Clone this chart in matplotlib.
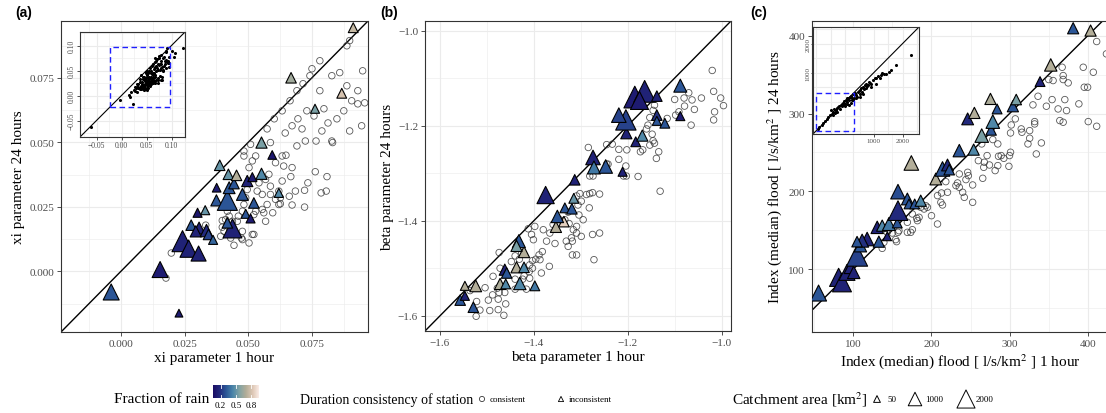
import matplotlib
matplotlib.use('Agg')
import matplotlib.pyplot as plt
import matplotlib.colors as mcolors
import matplotlib.ticker as mticker
from matplotlib.patches import Rectangle
import numpy as np

plt.rcParams['font.family'] = ['Liberation Serif', 'DejaVu Serif']
plt.rcParams['mathtext.fontset'] = 'stix'

GRID = '#EBEBEB'
BORDER = '#333333'
TICKC = '#4D4D4D'
LAPAZ = mcolors.LinearSegmentedColormap.from_list(
    'lapaz', ['#1A0C64', '#22297C', '#2B5797', '#4A85A9', '#80A3A4',
              '#B1AD98', '#DCC6B3', '#FBECE7'])
FRAC_MIN, FRAC_MAX = 0.05, 0.95

# ---------------- panel (a): xi parameter ----------------
a_circ_x = [0.0198, 0.0177, 0.0333, 0.0398, 0.0405, 0.0418, 0.0444, 0.0473, 0.0503, 0.0516,
            0.0477, 0.0457, 0.0483, 0.0490, 0.0522, 0.0529, 0.0568, 0.0555, 0.0574, 0.0587,
            0.0596, 0.0607, 0.0626, 0.0626, 0.0633, 0.0672, 0.0685, 0.0721, 0.0721, 0.0734,
            0.0763, 0.0786, 0.0806, 0.0809, 0.0667, 0.0672, 0.0639, 0.0607, 0.0633, 0.0648,
            0.0691, 0.0724, 0.0831, 0.0529, 0.0516, 0.0503, 0.0483, 0.0483, 0.0509, 0.0587,
            0.0581, 0.0587, 0.0568, 0.0535, 0.0555, 0.0542, 0.0496, 0.0477, 0.0461, 0.0438,
            0.0425, 0.0411, 0.0398, 0.0392, 0.0431, 0.0477, 0.0522, 0.0561, 0.0620, 0.0661,
            0.0620, 0.0691, 0.0715, 0.0742, 0.0781, 0.0797, 0.0828, 0.0859, 0.0887, 0.0906,
            0.0930, 0.0949, 0.0875, 0.0848, 0.0813, 0.0758, 0.0730, 0.0695, 0.0672, 0.0645,
            0.0711, 0.0602, 0.0574, 0.0887, 0.0898, 0.0930, 0.0957, 0.0789, 0.0781, 0.0750,
            0.0664, 0.0633, 0.0766, 0.0828, 0.0898, 0.0945]
a_circ_y = [0.0071, -0.0026, 0.0179, 0.0171, 0.0155, 0.0233, 0.0101, 0.0129, 0.0110, 0.0143,
            0.0155, 0.0194, 0.0259, 0.0285, 0.0220, 0.0233, 0.0194, 0.0240, 0.0259, 0.0298,
            0.0227, 0.0279, 0.0262, 0.0285, 0.0350, 0.0257, 0.0311, 0.0249, 0.0314, 0.0343,
            0.0386, 0.0304, 0.0311, 0.0367, 0.0367, 0.0402, 0.0408, 0.0421, 0.0447, 0.0450,
            0.0486, 0.0505, 0.0499, 0.0447, 0.0428, 0.0402, 0.0447, 0.0466, 0.0492, 0.0499,
            0.0376, 0.0330, 0.0356, 0.0311, 0.0298, 0.0343, 0.0317, 0.0233, 0.0214, 0.0194,
            0.0214, 0.0201, 0.0197, 0.0136, 0.0129, 0.0123, 0.0143, 0.0227, 0.0259, 0.0291,
            0.0311, 0.0700, 0.0727, 0.0758, 0.0700, 0.0630, 0.0758, 0.0770, 0.0719, 0.0661,
            0.0700, 0.0777, 0.0622, 0.0591, 0.0575, 0.0602, 0.0622, 0.0591, 0.0564, 0.0536,
            0.0552, 0.0591, 0.0552, 0.0874, 0.0894, 0.0649, 0.0653, 0.0544, 0.0816, 0.0785,
            0.0661, 0.0622, 0.0505, 0.0505, 0.0544, 0.0564]
a_tri_x = [-0.0038, 0.0154, 0.0228, 0.0242, 0.0266, 0.0305, 0.0276, 0.0301, 0.0331, 0.0307,
           0.0294, 0.0336, 0.0344, 0.0362, 0.0375, 0.0376, 0.0388, 0.0418, 0.0422, 0.0425,
           0.0438, 0.0444, 0.0454, 0.0477, 0.0496, 0.0516, 0.0522, 0.0490, 0.0509, 0.0552,
           0.0594, 0.0552, 0.0620, 0.0418, 0.0668, 0.0912, 0.0867, 0.0762]
a_tri_y = [-0.0080, 0.0007, -0.0162, 0.0117, 0.0088, 0.0069, 0.0179, 0.0227, 0.0237, 0.0168,
           0.0155, 0.0158, 0.0143, 0.0122, 0.0275, 0.0324, 0.0411, 0.0275, 0.0376, 0.0324,
           0.0166, 0.0340, 0.0372, 0.0298, 0.0350, 0.0365, 0.0265, 0.0223, 0.0205, 0.0378,
           0.0451, 0.0499, 0.0304, 0.0188, 0.0750, 0.0944, 0.0690, 0.0630]
a_tri_frac = [0.30, 0.12, 0.12, 0.15, 0.15, 0.15, 0.30, 0.10, 0.50, 0.15,
              0.15, 0.18, 0.25, 0.35, 0.30, 0.12, 0.50, 0.30, 0.50, 0.30,
              0.15, 0.30, 0.70, 0.30, 0.15, 0.12, 0.30, 0.30, 0.12, 0.45,
              0.10, 0.55, 0.45, 0.30, 0.65, 0.75, 0.80, 0.55]
a_tri_area = [1500, 1500, 150, 2800, 1800, 1300, 500, 300, 300, 700,
              600, 800, 500, 300, 600, 250, 500, 2500, 500, 700,
              2200, 500, 500, 700, 600, 300, 500, 300, 300, 600,
              250, 600, 300, 500, 500, 400, 400, 300]
# stations outside the main window, only visible in the inset
a_extra_x = [-0.062, 0.122, 0.107, 0.100, 0.104]
a_extra_y = [-0.063, 0.096, 0.086, 0.090, 0.078]

# ---------------- panel (b): beta parameter ----------------
b_circ_x = [-1.020, -1.017, -1.002, -0.996, -1.015, -1.017, -1.043, -1.063, -1.070, -1.080,
            -1.079, -1.058, -1.091, -1.098, -1.100, -1.065, -1.116, -1.143, -1.146, -1.153,
            -1.157, -1.160, -1.148, -1.146, -1.143, -1.153, -1.168, -1.173, -1.134, -1.139,
            -1.202, -1.204, -1.209, -1.203, -1.178, -1.131, -1.233, -1.245, -1.284, -1.219,
            -1.242, -1.281, -1.274, -1.275, -1.281, -1.260, -1.288, -1.302, -1.309, -1.299,
            -1.306, -1.282, -1.304, -1.295, -1.309, -1.316, -1.327, -1.334, -1.325, -1.260,
            -1.275, -1.299, -1.309, -1.320, -1.331, -1.327, -1.318, -1.318, -1.309, -1.272,
            -1.345, -1.359, -1.366, -1.355, -1.373, -1.398, -1.405, -1.401, -1.412, -1.380,
            -1.382, -1.389, -1.396, -1.403, -1.409, -1.387, -1.367, -1.384, -1.403, -1.410,
            -1.409, -1.431, -1.426, -1.440, -1.448, -1.474, -1.472, -1.487, -1.478, -1.474,
            -1.476, -1.488, -1.497, -1.494, -1.462, -1.460, -1.464, -1.476, -1.504, -1.523,
            -1.515, -1.522, -1.536, -1.440, -1.416, -1.424, -1.421, -1.440, -1.245, -1.219]
b_circ_y = [-1.084, -1.128, -1.142, -1.158, -1.171, -1.188, -1.142, -1.146, -1.131, -1.142,
            -1.159, -1.166, -1.171, -1.178, -1.145, -1.199, -1.185, -1.157, -1.168, -1.183,
            -1.199, -1.207, -1.218, -1.232, -1.237, -1.241, -1.251, -1.255, -1.255, -1.269,
            -1.251, -1.285, -1.306, -1.306, -1.307, -1.338, -1.239, -1.240, -1.246, -1.271,
            -1.281, -1.306, -1.306, -1.341, -1.343, -1.344, -1.345, -1.343, -1.348, -1.359,
            -1.367, -1.373, -1.388, -1.398, -1.412, -1.419, -1.382, -1.398, -1.406, -1.426,
            -1.429, -1.433, -1.426, -1.436, -1.443, -1.454, -1.443, -1.472, -1.472, -1.482,
            -1.398, -1.408, -1.426, -1.448, -1.443, -1.412, -1.429, -1.440, -1.417, -1.419,
            -1.465, -1.472, -1.481, -1.484, -1.493, -1.482, -1.496, -1.510, -1.500, -1.507,
            -1.521, -1.481, -1.468, -1.474, -1.486, -1.467, -1.500, -1.517, -1.542, -1.551,
            -1.565, -1.556, -1.567, -1.589, -1.551, -1.575, -1.599, -1.587, -1.541, -1.601,
            -1.588, -1.570, -1.547, -1.544, -1.544, -1.523, -1.516, -1.523, -1.281, -1.250]
b_tri_x = [-1.557, -1.547, -1.529, -1.547, -1.524, -1.472, -1.460, -1.462, -1.458, -1.437,
           -1.421, -1.430, -1.398, -1.421, -1.432, -1.437, -1.353, -1.336, -1.350, -1.334,
           -1.319, -1.315, -1.375, -1.313, -1.274, -1.272, -1.247, -1.211, -1.203, -1.183,
           -1.169, -1.204, -1.219, -1.185, -1.164, -1.175, -1.138, -1.138, -1.138, -1.121,
           -1.088, -1.088]
b_tri_y = [-1.567, -1.558, -1.582, -1.537, -1.537, -1.533, -1.533, -1.503, -1.510, -1.498,
           -1.498, -1.532, -1.537, -1.466, -1.443, -1.453, -1.413, -1.402, -1.391, -1.373,
           -1.375, -1.353, -1.346, -1.314, -1.267, -1.288, -1.286, -1.297, -1.216, -1.234,
           -1.221, -1.188, -1.178, -1.140, -1.128, -1.147, -1.138, -1.178, -1.190, -1.195,
           -1.116, -1.180]
b_tri_frac = [0.30, 0.15, 0.30, 0.70, 0.70, 0.68, 0.45, 0.15, 0.30, 0.70,
              0.45, 0.45, 0.40, 0.70, 0.30, 0.55, 0.70, 0.85, 0.30, 0.30,
              0.30, 0.50, 0.15, 0.15, 0.15, 0.40, 0.30, 0.15, 0.15, 0.15,
              0.45, 0.25, 0.25, 0.12, 0.15, 0.12, 0.15, 0.20, 0.30, 0.30,
              0.30, 0.12]
b_tri_area = [500, 300, 500, 300, 700, 600, 400, 600, 500, 600,
              500, 800, 400, 600, 900, 600, 600, 500, 800, 400,
              500, 400, 1800, 500, 1200, 900, 1000, 300, 600, 400,
              600, 2600, 1200, 3000, 3000, 2000, 500, 500, 300, 400,
              900, 300]

# ---------------- panel (c): index flood ----------------
c_circ_x = [411.5, 424.0, 407.2, 394.3, 395.6, 399.9, 411.5, 400.7, 388.7, 375.0,
            368.6, 368.6, 355.7, 350.1, 367.3, 370.7, 372.9, 362.1, 364.3, 368.6,
            354.4, 347.1, 336.4, 329.9, 332.1, 332.1, 325.7, 325.7, 323.5, 340.7,
            334.2, 314.9, 315.8, 302.1, 301.2, 307.3, 299.9, 301.2, 299.1, 289.2,
            292.6, 285.8, 284.9, 284.9, 278.5, 264.3, 271.2, 274.2, 266.9, 265.6,
            281.5, 260.0, 267.7, 246.3, 247.2, 252.7, 252.7, 244.1, 235.6, 233.4,
            231.3, 235.6, 242.0, 239.9, 220.5, 218.3, 212.8, 207.7, 212.0, 214.1,
            200.0, 207.7, 192.7, 186.2, 175.5, 181.1, 184.1, 182.0, 169.1, 175.5,
            173.4, 169.1, 158.3, 157.1, 154.1, 155.3, 139.0, 136.9, 143.3, 149.8,
            194.8, 190.5]
c_circ_y = [392.6, 376.7, 353.1, 359.5, 333.8, 333.8, 283.6, 289.6, 312.4, 339.4,
            348.8, 343.7, 342.4, 343.7, 359.5, 317.9, 303.8, 305.9, 290.9, 288.8,
            317.9, 309.4, 322.2, 311.1, 289.6, 286.6, 278.0, 268.2, 260.9, 262.2,
            248.0, 280.2, 275.9, 285.3, 275.0, 293.1, 245.9, 250.2, 232.1, 245.9,
            242.4, 245.0, 233.0, 260.9, 266.5, 260.9, 245.9, 233.8, 230.8, 216.7,
            226.6, 239.4, 237.3, 224.4, 220.1, 208.1, 185.8, 215.0, 222.3, 210.7,
            207.3, 205.1, 192.2, 198.7, 198.7, 212.4, 197.8, 194.4, 185.8, 182.4,
            168.6, 157.9, 181.5, 179.4, 170.8, 165.2, 166.5, 162.2, 160.1, 150.6,
            147.2, 147.2, 149.3, 147.2, 137.8, 135.2, 134.3, 126.6, 147.2, 146.3,
            179.4, 177.2]
c_tri_x = [55.4, 81.1, 85.4, 91.8, 96.1, 100.4, 104.7, 109.0, 117.6, 111.2,
           104.7, 132.6, 130.5, 136.9, 143.3, 145.5, 156.2, 157.1, 157.1, 169.1,
           171.2, 178.5, 186.2, 174.2, 205.5, 214.1, 220.5, 222.7, 235.6, 254.0,
           264.3, 276.3, 278.5, 246.3, 254.9, 275.5, 284.0, 304.2, 308.5, 339.0,
           352.7, 381.4, 403.7]
c_tri_y = [69.1, 89.3, 82.8, 95.7, 102.1, 95.7, 117.2, 130.0, 138.6, 136.5,
           135.2, 135.2, 153.6, 155.8, 142.0, 157.9, 159.2, 175.1, 199.5, 190.1,
           183.7, 183.7, 187.9, 236.4, 215.8, 228.7, 233.8, 227.8, 252.3, 253.6,
           271.6, 278.9, 289.6, 293.1, 300.8, 318.8, 305.9, 309.4, 318.0, 341.1,
           362.5, 409.7, 406.7]
c_tri_frac = [0.30, 0.15, 0.15, 0.15, 0.15, 0.15, 0.25, 0.30, 0.15, 0.20,
              0.30, 0.30, 0.15, 0.45, 0.15, 0.40, 0.30, 0.18, 0.28, 0.30,
              0.30, 0.30, 0.45, 0.70, 0.70, 0.30, 0.18, 0.30, 0.30, 0.45,
              0.55, 0.30, 0.45, 0.18, 0.70, 0.68, 0.30, 0.30, 0.55, 0.15,
              0.70, 0.30, 0.70]
c_tri_area = [1500, 2000, 2200, 1500, 800, 800, 2800, 800, 1000, 900,
              500, 600, 800, 600, 250, 900, 400, 2400, 1200, 700,
              400, 400, 600, 1200, 700, 1200, 700, 500, 800, 600,
              1000, 500, 1000, 700, 600, 600, 400, 600, 500, 400,
              800, 600, 600]
# inset of (c) as printed: its own axis scale and its own dashed window
c_in_x = [-963, -894, -814, -756, -699, -641, -584, -527, -469, -412,
          -389, -320, -274, -239, -205, -159, -124, -90, -67, -33,
          -10, 25, 48, 71, 105, 140, 163, 186, 220, 255,
          278, 312, 347, 393, 416, 450, 485, 508, 531, 565,
          600, 623, 657, 680, 714, 737, 760, 795, 829, 852,
          887, 910, 967, 1025, 1082, 1139, 1197, 1254, 1289, 1335,
          1427, 1542, 1588, 1771, 1082, 2289, -504, -435, -182, 140,
          278, -354, -297, -113, -21, 71, 232, 393, 508, 623]
c_in_y = [-936, -878, -797, -728, -681, -589, -543, -473, -416, -358,
          -265, -300, -219, -184, -150, -103, -69, -34, -103, 12,
          -150, 47, -11, 105, 128, 47, 162, -34, 197, 105,
          243, 128, 278, 220, 151, 313, 359, 243, 394, 451,
          336, 509, 428, 567, 475, 613, 532, 567, 683, 625,
          590, 509, 740, 798, 821, 891, 821, 914, 972, 937,
          960, 1029, 1087, 1261, 590, 1607, -300, -473, -242, -127,
          47, -392, -358, -150, -80, -69, 58, 105, 162, 266]
c_in_window = (-1000, 300)


def tri_size(area):
    return 20 + np.asarray(area) * 0.075


def style_axes(ax, fmt, fs=8):
    ax.set_facecolor('white')
    for sp in ax.spines.values():
        sp.set_color(BORDER)
        sp.set_linewidth(0.8)
    ax.xaxis.set_major_formatter(mticker.FuncFormatter(fmt))
    ax.yaxis.set_major_formatter(mticker.FuncFormatter(fmt))
    ax.grid(which='major', color=GRID, linewidth=0.8)
    ax.grid(which='minor', color=GRID, linewidth=0.4)
    ax.set_axisbelow(True)
    ax.tick_params(which='major', length=3, width=0.6, color=BORDER, labelsize=fs,
                   labelcolor=TICKC, pad=2)
    ax.tick_params(which='minor', length=0)


def set_locators(ax, major, minor):
    for axis in (ax.xaxis, ax.yaxis):
        axis.set_major_locator(major)
        axis.set_minor_locator(minor)


def draw_main(ax, cx, cy, tx, ty, tf, ta, xlim, ylim):
    ax.axline((xlim[0], xlim[0]), slope=1, color='black', linewidth=1.0, zorder=1.5)
    ax.scatter(cx, cy, s=22, facecolors='none', edgecolors='#3a3a3a', linewidths=0.6,
               alpha=0.85, zorder=2)
    ax.scatter(tx, ty, s=tri_size(ta), marker='^', c=tf, cmap=LAPAZ,
               vmin=FRAC_MIN, vmax=FRAC_MAX, edgecolors='black', linewidths=0.8, zorder=3)
    ax.set_xlim(xlim)
    ax.set_ylim(ylim)


def draw_inset(ax, xs, ys, lim, window, fmt, fs=5.5):
    ax.axline((lim[0], lim[0]), slope=1, color='black', linewidth=0.8, zorder=1.5)
    ax.scatter(xs, ys, s=1.5, color='black', zorder=2)
    ax.add_patch(Rectangle((window[0], window[0]), window[1] - window[0],
                           window[1] - window[0], fill=False, edgecolor='#1f1fff',
                           linestyle=(0, (4, 2.5)), linewidth=1.0, zorder=3))
    ax.set_xlim(lim)
    ax.set_ylim(lim)
    style_axes(ax, fmt, fs=fs)
    ax.tick_params(which='major', length=2, pad=1)
    for lab in ax.get_yticklabels():
        lab.set_rotation(90)
        lab.set_va('center')


def minus(s):
    return s.replace('-', '\u2212')


fig = plt.figure(figsize=(11.06, 4.14), dpi=100)
fig.patch.set_facecolor('white')

W, H = 1106.0, 414.0


def px_axes(left, top, right, bottom):
    return fig.add_axes([left / W, 1 - bottom / H, (right - left) / W, (bottom - top) / H])


# (a)
lim_a = (-0.0235, 0.0970)
ax_a = px_axes(61, 22, 368, 333)
draw_main(ax_a, a_circ_x, a_circ_y, a_tri_x, a_tri_y, a_tri_frac, a_tri_area, lim_a, lim_a)
set_locators(ax_a, mticker.MultipleLocator(0.025), mticker.MultipleLocator(0.0125))
style_axes(ax_a, lambda v, p: minus(f'{v:.3f}'))
ax_a.set_xlabel('xi parameter 1 hour', fontsize=11, labelpad=2)
ax_a.set_ylabel('xi parameter 24 hours', fontsize=11, labelpad=3)

in_a = px_axes(80, 33, 185, 138)
set_locators(in_a, mticker.MultipleLocator(0.05), mticker.MultipleLocator(0.025))
draw_inset(in_a, a_circ_x + a_tri_x + a_extra_x, a_circ_y + a_tri_y + a_extra_y,
           (-0.083, 0.127), lim_a, lambda v, p: minus(f'{v:.2f}'))

# (b)
lim_b = (-1.632, -0.980)
ax_b = px_axes(425, 22, 731, 332)
draw_main(ax_b, b_circ_x, b_circ_y, b_tri_x, b_tri_y, b_tri_frac, b_tri_area, lim_b, lim_b)
set_locators(ax_b, mticker.MultipleLocator(0.2), mticker.MultipleLocator(0.1))
style_axes(ax_b, lambda v, p: minus(f'{v:.1f}'))
ax_b.set_xlabel('beta parameter 1 hour', fontsize=11, labelpad=2)
ax_b.set_ylabel('beta parameter 24 hours', fontsize=11, labelpad=3)

# (c)
ax_c = px_axes(812, 22, 1108, 333)
draw_main(ax_c, c_circ_x, c_circ_y, c_tri_x, c_tri_y, c_tri_frac, c_tri_area,
          (47, 426), (19, 419))
set_locators(ax_c, mticker.MultipleLocator(100), mticker.MultipleLocator(50))
style_axes(ax_c, lambda v, p: f'{v:.0f}')
ax_c.set_xlabel(r'Index (median) flood [ l/s/km$^2$ ] 1 hour', fontsize=11, labelpad=2)
ax_c.set_ylabel(r'Index (median) flood [ l/s/km$^2$ ] 24 hours', fontsize=11, labelpad=3)

in_c = px_axes(813, 28, 919, 135)
set_locators(in_c, mticker.FixedLocator([1000, 2000]), mticker.MultipleLocator(500))
draw_inset(in_c, c_in_x, c_in_y, (-1120, 2570), c_in_window, lambda v, p: f'{v:.0f}', fs=5)
in_c.grid(which='minor', color=GRID, linewidth=0.8)
in_c.tick_params(axis='y', pad=0.5, length=1.5)

for lab, xp in (('(a)', 15), ('(b)', 380), ('(c)', 750)):
    fig.text(xp / W, 1 - 13 / H, lab, fontsize=10, fontweight='bold',
             family=['Liberation Sans', 'DejaVu Sans'], va='center', ha='left')

# ---------------- legend row ----------------
leg = fig.add_axes([0, 0, 1, 0.09])
leg.set_xlim(0, W)
leg.set_ylim(0, 0.09 * H)
leg.axis('off')
yc = 14
leg.text(209, yc, 'Fraction of rain', fontsize=11, ha='right', va='center')
cb_ax = px_axes(213, 386, 259, 399)
grad = np.linspace(FRAC_MIN, FRAC_MAX, 256)[None, :]
cb_ax.imshow(grad, aspect='auto', cmap=LAPAZ, extent=(FRAC_MIN, FRAC_MAX, 0, 1))
cb_ax.set_xlim(FRAC_MIN, FRAC_MAX)
cb_ax.set_ylim(0, 1)
cb_ax.set_yticks([])
cb_ax.set_xticks([0.2, 0.5, 0.8])
cb_ax.set_xticklabels(['0.2', '0.5', '0.8'], fontsize=6.5)
cb_ax.tick_params(axis='x', length=0, pad=2)
for v in (0.2, 0.5, 0.8):
    cb_ax.plot([v, v], [0, 0.2], color='white', lw=0.6)
    cb_ax.plot([v, v], [0.8, 1], color='white', lw=0.6)
for sp in cb_ax.spines.values():
    sp.set_visible(False)

leg.text(473, yc, 'Duration consistency of station', fontsize=10, ha='right', va='center')
leg.scatter([482], [yc], s=14, facecolors='none', edgecolors='#3a3a3a', linewidths=0.6)
leg.text(490, yc, 'consistent', fontsize=6.5, ha='left', va='center')
leg.scatter([561], [yc], s=14, marker='^', facecolors='none', edgecolors='black', linewidths=0.6)
leg.text(569, yc, 'inconsistent', fontsize=6.5, ha='left', va='center')

leg.text(868, yc, r'Catchment area [km$^2$]', fontsize=11, ha='right', va='center')
for xp, area, lab in ((877, 50, '50'), (915, 1000, '1000'), (966, 2000, '2000')):
    leg.scatter([xp], [yc], s=tri_size(area), marker='^', facecolors='none',
                edgecolors='black', linewidths=0.7)
    leg.text(xp + 10, yc, lab, fontsize=6.5, ha='left', va='center')

fig.savefig('out.png', dpi=100, facecolor='white')
